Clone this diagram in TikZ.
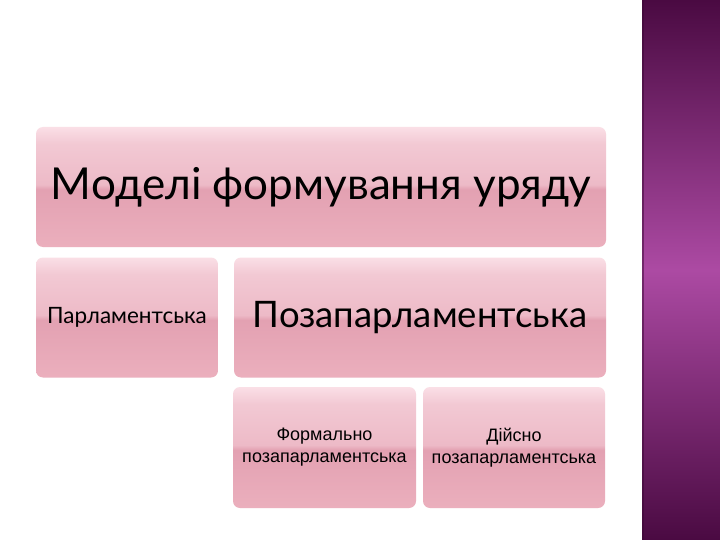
\documentclass[tikz,border=0pt]{standalone}
\usepackage{fontspec}
\setmainfont{Lato}
\newfontfamily\arialf{Liberation Sans}
\definecolor{pkT}{HTML}{FADFE6}
\definecolor{pkU}{HTML}{EDBAC7}
\definecolor{pkL}{HTML}{E3A1B2}
\definecolor{pkB}{HTML}{EBAFBD}
\definecolor{puD}{HTML}{4A0A42}
\definecolor{puM}{HTML}{AC4AA3}
\pgfdeclareverticalshading{gloss}{100bp}{color(0bp)=(pkB); color(25bp)=(pkB); color(49bp)=(pkL); color(51bp)=(pkU); color(68bp)=(pkU!60!pkT); color(75bp)=(pkT); color(100bp)=(pkT)}
\begin{document}
\begin{tikzpicture}[x=1pt,y=-1pt,
  box/.style={rectangle, rounded corners=7pt, shading=gloss, draw=none, inner sep=0pt, align=center, text=black},
  big/.style={font=\fontsize{44}{48}\selectfont},
  mid/.style={font=\fontsize{36.5}{40}\selectfont},
  sml/.style={font=\fontsize{22.5}{24}\selectfont},
  tiny/.style={font=\arialf\fontsize{18}{22}\selectfont}]
\useasboundingbox (0,0) rectangle (720,540);
\fill[white] (0,0) rectangle (720,540);
% purple strip
\shade[top color=puD, bottom color=puD, middle color=puM] (642,0) rectangle (720,540);
\fill[puD!80!black, opacity=0.5] (642,0) rectangle (644,540);
% boxes
\node[box, minimum width=570pt, minimum height=120pt, big] (title) at (321,187) {Моделі формування уряду};
\node[box, minimum width=182pt, minimum height=120pt, sml] (parl) at (127,317.5) {Парламентська};
\node[box, minimum width=372pt, minimum height=120pt, mid] (pozap) at (420,317.5) {Позапарламентська};
\node[box, minimum width=183pt, minimum height=121pt, tiny] (formal) at (324.5,447.5) {Формально\\позапарламентська};
\node[box, minimum width=182pt, minimum height=121pt, tiny] (real) at (514,447.5) {Дійсно\\позапарламентська};
\end{tikzpicture}
\end{document}
